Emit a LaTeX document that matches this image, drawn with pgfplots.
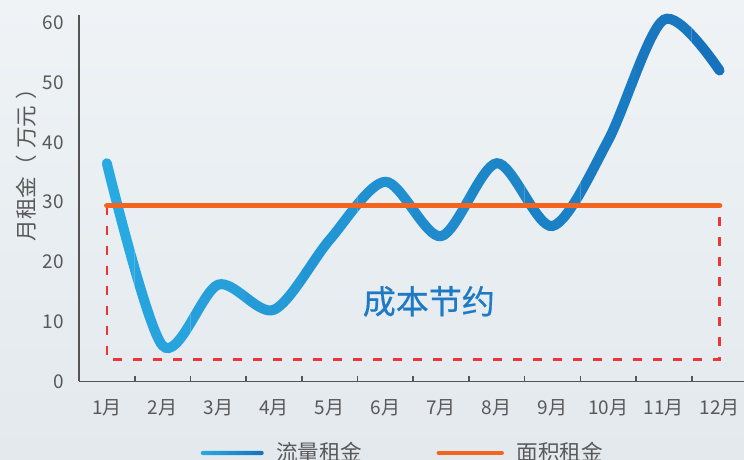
\documentclass[border=0pt]{standalone}
\usepackage{pgfplots}
\pgfplotsset{compat=1.18}
\usepackage{pgfplotstable}
\usepackage{fontspec}
\setmainfont{Noto Sans CJK SC}
\newfontfamily\capfont{Noto Sans CJK SC}[FakeBold=0.6]
\definecolor{bglight}{HTML}{EFF3F6}
\definecolor{bgdark}{HTML}{E3E9ED}
\definecolor{blight}{HTML}{29A9E1}
\definecolor{bdark}{HTML}{1672BC}
\definecolor{orng}{HTML}{F4641F}
\definecolor{rdash}{HTML}{EE3535}
\definecolor{txt}{HTML}{595959}
\definecolor{axc}{HTML}{555555}
\definecolor{savecol}{HTML}{1E7AC4}

\pgfplotstableread{
x y
1 36.5
2 6
3 16.2
4 12
5 23.7
6 33.4
7 24.3
8 36.5
9 26
10 40.3
11 60.5
12 52
}\bluedata
\pgfplotstableread{
x y
1 29.4
12 29.4
}\areadata
\pgfplotstableread{
x y
1 29.4
1 3.7
12 3.7
12 29.4
}\rectdata

\newcommand{\strip}[3]{%
  \begin{scope}
    \clip (axis cs:#1,-20) rectangle (axis cs:#2,90);
    \addplot[forget plot, smooth, line width=5pt, line cap=round, color=bdark!#3!blight] table {\bluedata};
  \end{scope}}

\begin{document}
\begin{tikzpicture}
\shade[top color=bglight, bottom color=bgdark] (0,0) rectangle (372pt,230pt);
\begin{axis}[
  at={(39.5pt,39.25pt)}, anchor=south west,
  x=27.85pt, y=2.99pt,
  xmin=0.5, xmax=12.5, ymin=0, ymax=61.3,
  axis lines=left,
  axis line style={axc, line width=0.8pt, -},
  clip=false,
  xtick={1,...,12},
  xticklabels={1月,2月,3月,4月,5月,6月,7月,8月,9月,10月,11月,12月},
  major x tick style={draw=none},
  minor xtick={1.5,2.5,...,11.5},
  minor tick length=2.5pt,
  tick align=inside,
  minor x tick style={axc, line width=0.8pt},
  ytick={0,10,...,60},
  major y tick style={draw=none},
  /pgf/number format/assume math mode=true,
  tick label style={font=\fontsize{9.5pt}{11pt}\selectfont, text=txt},
  yticklabel style={xshift=-4pt},
  xticklabel style={yshift=-5.5pt},
  ylabel={月租金（\hspace{3pt}万元\hspace{3pt}）},
  ylabel style={at={(axis description cs:-0.079,0.605)}, anchor=center, font=\fontsize{10.8pt}{12pt}\selectfont, text=txt},
  legend style={at={(axis description cs:0.486,-0.195)}, anchor=center, draw=none, fill=none,
    font=\fontsize{10.8pt}{12pt}\selectfont, text=txt,
    /tikz/every even column/.append style={column sep=35pt}},
  legend columns=2,
]
\addplot[forget plot, rdash, line width=1.2pt, dash pattern=on 4.5pt off 5.5pt] table {\rectdata};
\strip{0}{1.5}{0}
\strip{1.5}{2.5}{9}
\strip{2.5}{3.5}{18}
\strip{3.5}{4.5}{27}
\strip{4.5}{5.5}{36}
\strip{5.5}{6.5}{45}
\strip{6.5}{7.5}{55}
\strip{7.5}{8.5}{64}
\strip{8.5}{9.5}{73}
\strip{9.5}{10.5}{82}
\strip{10.5}{11.5}{91}
\strip{11.5}{13}{100}
\addlegendimage{legend image code/.code={\shade[draw=none, left color=blight,right color=bdark, rounded corners=1.1pt] (0pt,-1.1pt) rectangle (31.5pt,1.1pt); \path (35.5pt,0pt);}}
\addlegendentry{流量租金}
\addplot[orng, line width=2.8pt, line cap=round,
  legend image code/.code={\draw[orng, line width=2.2pt, line cap=round] (0pt,0pt) -- (31.5pt,0pt); \path (35.5pt,0pt);}] table {\areadata};
\addlegendentry{面积租金}
\node[text=savecol, font=\capfont\fontsize{16.5pt}{18pt}\selectfont] at (axis cs:6.78,13.4) {成本节约};
\end{axis}
\pgfresetboundingbox
\useasboundingbox (0,0) rectangle (372pt,230pt);
\end{tikzpicture}
\end{document}
